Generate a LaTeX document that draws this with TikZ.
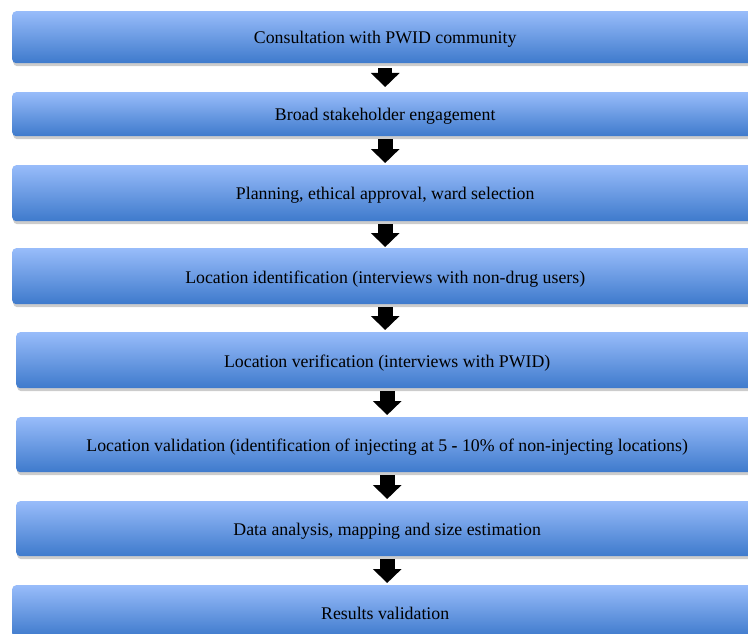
\documentclass[tikz,border=0pt]{standalone}
\usepackage{fontspec}
\setmainfont{Liberation Serif}
\usetikzlibrary{shadows,arrows.meta}
\definecolor{btop}{RGB}{152,188,250}
\definecolor{bmid}{RGB}{120,164,234}
\definecolor{bbot}{RGB}{62,122,204}
\newcommand\lowtext[1]{\raisebox{-2.5pt}[\height][\depth]{#1}}
\begin{document}
\begin{tikzpicture}[x=1pt,y=-1pt,
  stage/.style={rectangle, rounded corners=4pt, anchor=north west,
    top color=btop, middle color=bmid, bottom color=bbot,
    drop shadow={shadow xshift=1pt,shadow yshift=-3pt,opacity=0.2,fill=black},
    font=\fontsize{17.8}{20}\selectfont, inner sep=0pt, text=black},
  flow/.style={line width=15pt, -{Triangle[width=28pt,length=14pt]}, draw=black}]
\useasboundingbox (0,0) rectangle (748,634);
\clip (0,0) rectangle (748,634);
\node[stage, minimum width=746pt, minimum height=52pt] (b1) at (12,11) {\lowtext{Consultation with PWID community}};
\node[stage, minimum width=746pt, minimum height=44pt] (b2) at (12,92) {\lowtext{Broad stakeholder engagement}};
\node[stage, minimum width=746pt, minimum height=56pt] (b3) at (12,165) {\lowtext{Planning, ethical approval, ward selection}};
\node[stage, minimum width=746pt, minimum height=56pt] (b4) at (12,248) {\lowtext{Location identification (interviews with non-drug users)}};
\node[stage, minimum width=742pt, minimum height=56pt] (b5) at (16,332) {\lowtext{Location verification (interviews with PWID)}};
\node[stage, minimum width=742pt, minimum height=55pt] (b6) at (16,417) {\lowtext{Location validation (identification of injecting at 5 \textbf{-} 10\% of non-injecting locations)}};
\node[stage, minimum width=742pt, minimum height=55pt] (b7) at (16,501) {\lowtext{Data analysis, mapping and size estimation}};
\node[stage, minimum width=746pt, minimum height=52pt] (b8) at (12,585) {\lowtext{Results validation}};
\draw[flow, line width=14pt] ([yshift=-5pt]b1.south) -- ([yshift=5pt]b1.south |- b2.north);
\draw[flow] ([yshift=-3pt]b2.south) -- ([yshift=2pt]b2.south |- b3.north);
\draw[flow] ([yshift=-3pt]b3.south) -- ([yshift=1pt]b3.south |- b4.north);
\draw[flow] ([yshift=-3pt]b4.south) -- ([yshift=2pt]b4.south |- b5.north);
\draw[flow] ([yshift=-3pt]b5.south) -- ([yshift=2pt]b5.south |- b6.north);
\draw[flow] ([yshift=-3pt]b6.south) -- ([yshift=2pt]b6.south |- b7.north);
\draw[flow] ([yshift=-3pt]b7.south) -- ([yshift=2pt]b7.south |- b8.north);
\end{tikzpicture}
\end{document}
